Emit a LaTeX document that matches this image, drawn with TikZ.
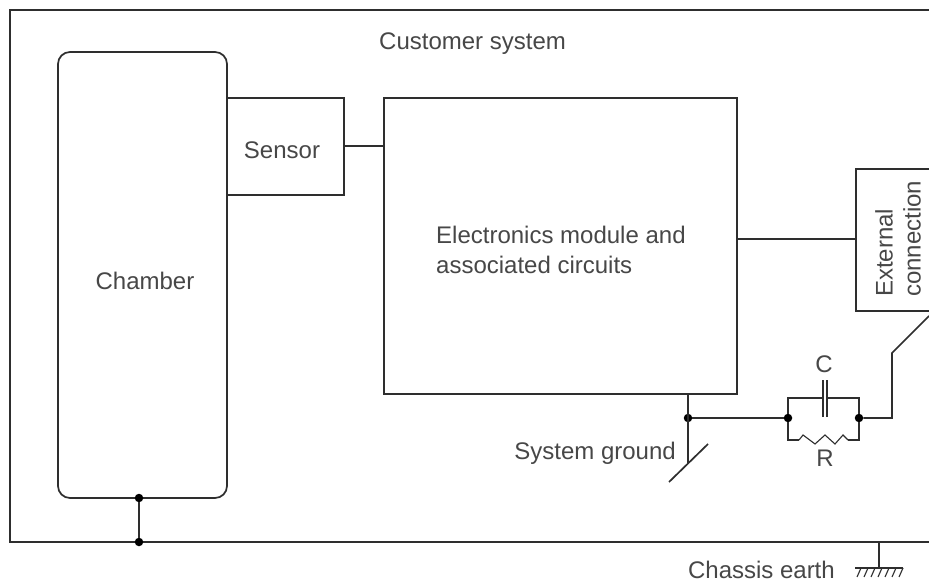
\documentclass[tikz,border=0pt]{standalone}
\usepackage{fontspec}
\setmainfont{Liberation Sans}
\usetikzlibrary{calc}
\definecolor{ink}{gray}{0.18}
\tikzset{
  x=1pt,y=-1pt,
  wire/.style={draw=ink,line width=1.7pt},
  thinwire/.style={draw=ink,line width=1.1pt},
  blockbox/.style={draw=ink,line width=1.7pt,inner sep=0pt,outer sep=0pt,anchor=north west},
  lbl/.style={font=\fontsize{24}{30}\selectfont,text=black!72,inner sep=0pt},
  junction/.style={circle,fill=black,inner sep=0pt,minimum size=8.5pt}
}
\begin{document}
\begin{tikzpicture}
\useasboundingbox (0,0) rectangle (929,585);
\fill[white] (0,0) rectangle (929,585);
% customer system frame
\coordinate (ftr) at (932,10);
\coordinate (ftl) at (10,10);
\coordinate (fbl) at (10,542);
\coordinate (fbr) at (932,542);
\draw[wire] (ftr) -- (ftl) -- (fbl) -- (fbr);
% blocks
\node[blockbox,rounded corners=12pt,minimum width=169pt,minimum height=446pt] (chamber) at (58,52) {};
\node[blockbox,minimum width=117pt,minimum height=97pt] (sensor) at (227,98) {};
\node[blockbox,minimum width=353pt,minimum height=296pt] (module) at (384,98) {};
\node[blockbox,minimum width=90pt,minimum height=142pt] (ext) at (856,169) {};
% labels
\node[lbl,anchor=west] (tcust) at (379,44) {Customer system};
\node[lbl] (tsens) at (282,150) {Sensor};
\node[lbl] (tcham) at (145,281) {Chamber};
\node[lbl,align=left,anchor=west] (tmod) at (436,250) {Electronics module and\\associated circuits};
\node[lbl,rotate=90,align=left,anchor=west,font=\fontsize{24}{28}\selectfont] (text) at (898,297) {External\\connection};
\node[lbl,anchor=east] (tgnd) at (676,453) {System ground};
\node[lbl,anchor=east] (tearth) at (835,570) {Chassis earth};
\node[lbl] (tc) at (824,364) {C};
\node[lbl] (tr) at (825,458) {R};
% sensor and module links
\draw[wire] (sensor.east |- 0,146) -- (module.west |- 0,146);
\draw[wire] (module.east |- 0,239) -- (ext.west |- 0,239);
% chamber to chassis
\node[junction] (j1) at (139,498) {};
\node[junction] (j2) at (139,542) {};
\draw[wire] (j1) -- (j2);
% system ground
\coordinate (m1) at (688,394);
\node[junction] (j3) at (688,418) {};
\coordinate (g0) at (688,463);
\coordinate (g1) at (669,482);
\coordinate (g2) at (708,444);
\draw[wire] (m1) -- (g0);
\draw[wire] (g1) -- (g2);
% RC
\node[junction] (j4) at (788,418) {};
\node[junction] (j5) at (859,418) {};
\draw[wire] (j3) -- (j4);
\coordinate (p1) at (823,398);
\coordinate (p2) at (827,398);
\draw[wire] (j4) -- (788,398) -- (p1);
\draw[wire] (p2) -- (859,398) -- (j5);
\draw[wire] (823,380) -- (823,417);
\draw[wire] (827,380) -- (827,417);
\coordinate (r1) at (799,440);
\coordinate (r2) at (848,440);
\draw[wire] (j4) -- (788,440) -- (r1);
\draw[thinwire] (r1) -- (803,435) -- (815,444) -- (825,435) -- (835,444) -- (843,435) -- (r2);
\draw[wire] (r2) -- (859,440) -- (j5);
% external
\coordinate (x1) at (892,353);
\coordinate (x2) at (929,316);
\draw[wire] (j5) -- (892,418) -- (x1) -- (x2);
% chassis earth
\coordinate (e0) at (879,542);
\coordinate (e1) at (879,568);
\draw[wire] (e0) -- (e1);
\draw[thinwire] (855,568) -- (903,568);
\foreach \hx in {861,868,875,882,889,896,903}{
  \draw[thinwire] (\hx,568) -- (\hx-4,577);
}
\end{tikzpicture}
\end{document}
